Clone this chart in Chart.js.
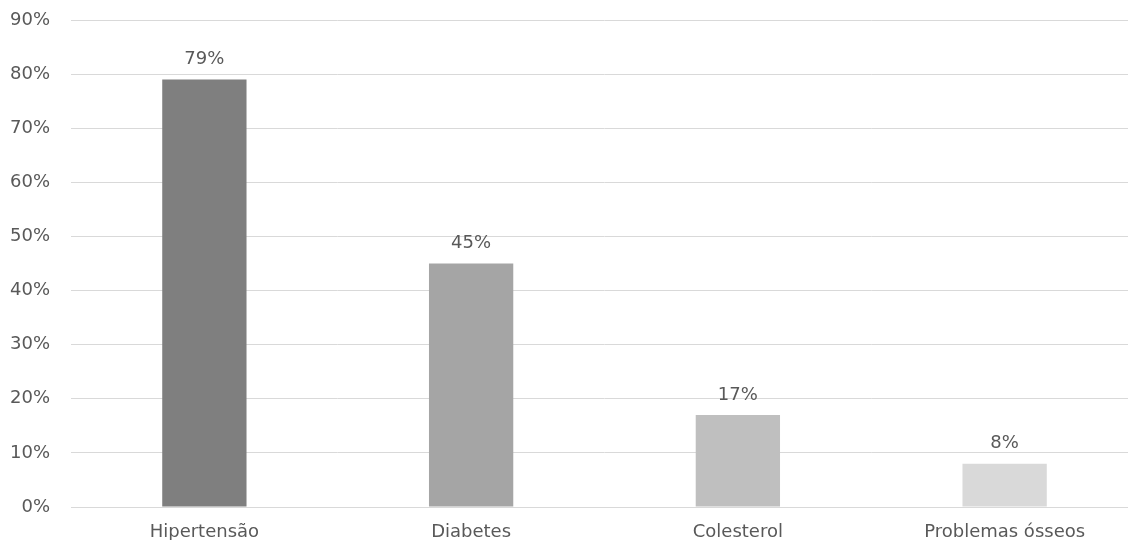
<!DOCTYPE html>
<html>
<head>
<meta charset="utf-8">
<script src="https://cdn.jsdelivr.net/npm/chart.js@4"></script>
<style>
  html, body { margin: 0; padding: 0; background: #fff; overflow: hidden; }
  #wrap { width: 1140px; height: 540px; }
</style>
</head>
<body>
<div id="wrap"><canvas id="chart"></canvas></div>
<script>
// data
const categories = ['Hipertensão', 'Diabetes', 'Colesterol', 'Problemas ósseos'];
const values = [79, 45, 17, 8];
const barColors = ['#7f7f7f', '#a5a5a5', '#bfbfbf', '#d9d9d9'];

const textColor = '#595959';
const fontFamily = "'DejaVu Sans', sans-serif";

// draws the value on top of each bar
const valueLabels = {
    id: 'valueLabels',
    afterDatasetsDraw(chart) {
        const c = chart.ctx;
        const meta = chart.getDatasetMeta(0);
        c.save();
        c.font = '18px ' + fontFamily;
        c.fillStyle = textColor;
        c.textAlign = 'center';
        c.textBaseline = 'middle';
        meta.data.forEach(function (bar, i) {
            c.fillText(values[i] + '%', bar.x, bar.y - 20);
        });
        c.restore();
    }
};

new Chart(document.getElementById('chart'), {
    type: 'bar',
    data: {
        labels: categories,
        datasets: [{
            data: values,
            backgroundColor: barColors,
            barPercentage: 0.316,
            categoryPercentage: 1
        }]
    },
    options: {
        responsive: true,
        maintainAspectRatio: false,
        animation: false,
        layout: { padding: { top: 20, right: 2, left: 0, bottom: 0 } },
        plugins: {
            legend: { display: false },
            tooltip: { enabled: false }
        },
        scales: {
            x: {
                grid: { display: false },
                border: { color: '#d9d9d9', width: 1 },
                ticks: {
                    color: textColor,
                    font: { family: fontFamily, size: 18 },
                    padding: 7
                },
                afterFit(scale) { scale.height = 33; }
            },
            y: {
                min: 0,
                max: 90,
                border: { display: false },
                // invisible tick marks give the gap between labels and plot
                grid: { color: '#d9d9d9', lineWidth: 1, drawTicks: true, tickLength: 21, tickColor: 'rgba(0,0,0,0)' },
                ticks: {
                    stepSize: 10,
                    color: textColor,
                    font: { family: fontFamily, size: 18 },
                    padding: 0,
                    callback: function (v) { return v + '%'; }
                },
                afterFit(scale) { scale.width = 71; }
            }
        }
    },
    plugins: [valueLabels]
});
</script>
</body>
</html>
